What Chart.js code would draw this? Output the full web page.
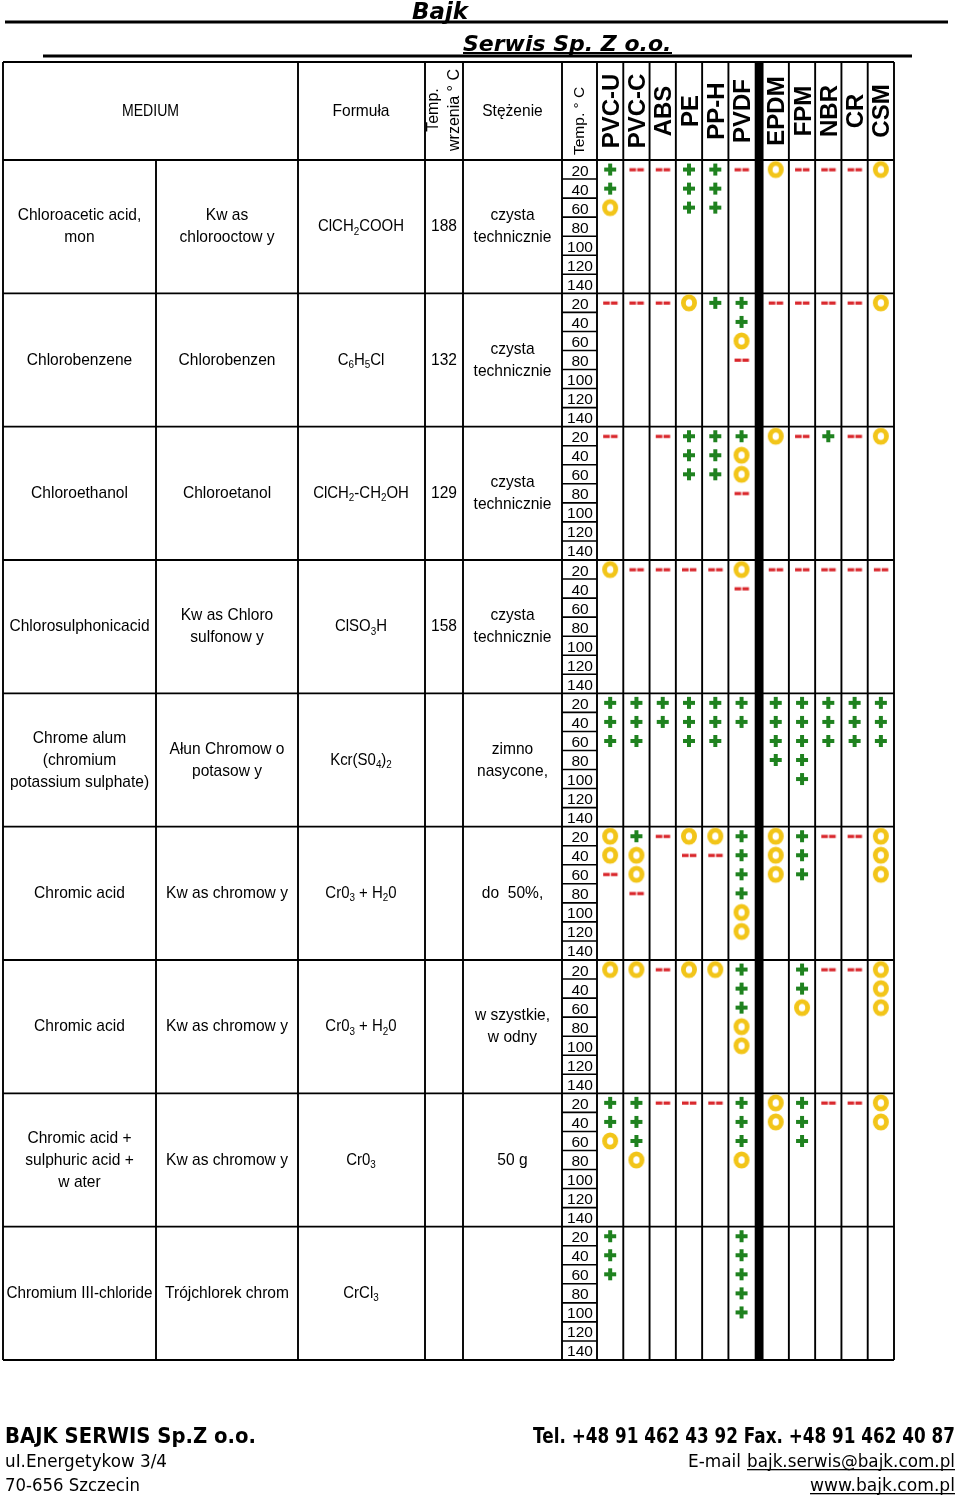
<!DOCTYPE html>
<html>
<head>
<meta charset="utf-8">
<script src="https://cdn.jsdelivr.net/npm/chart.js@4.4.1/dist/chart.umd.min.js"></script>
<style>
  html, body { margin: 0; padding: 0; background: #fff; }
  canvas { display: block; }
</style>
</head>
<body>
<canvas id="chart" width="960" height="1496"></canvas>
<script>
// materials (columns) and temperature steps (rows inside each medium)
const materials = ['PVC-U', 'PVC-C', 'ABS', 'PE', 'PP-H', 'PVDF', 'EPDM', 'FPM', 'NBR', 'CR', 'CSM']
const temps = ['20', '40', '60', '80', '100', '120', '140']

// left part of the table
const mediumEn = [
  ['Chloroacetic acid,', 'mon'],
  ['Chlorobenzene'],
  ['Chloroethanol'],
  ['Chlorosulphonicacid'],
  ['Chrome alum', '(chromium', 'potassium sulphate)'],
  ['Chromic acid'],
  ['Chromic acid'],
  ['Chromic acid +', 'sulphuric acid +', 'w ater'],
  ['Chromium III-chloride']
]
const mediumPl = [
  ['Kw as', 'chlorooctow y'],
  ['Chlorobenzen'],
  ['Chloroetanol'],
  ['Kw as Chloro', 'sulfonow y'],
  ['Ałun Chromow o', 'potasow y'],
  ['Kw as chromow y'],
  ['Kw as chromow y'],
  ['Kw as chromow y'],
  ['Trójchlorek chrom']
]
// "_" = next character is a subscript
const formulas = ['ClCH_2COOH', 'C_6H_5Cl', 'ClCH_2-CH_2OH', 'ClSO_3H', 'Kcr(S0_4)_2', 'Cr0_3 + H_20', 'Cr0_3 + H_20', 'Cr0_3', 'CrCl_3']
const boiling = ['188', '132', '129', '158', '', '', '', '', '']
const concentration = [
  ['czysta', 'technicznie'],
  ['czysta', 'technicznie'],
  ['czysta', 'technicznie'],
  ['czysta', 'technicznie'],
  ['zimno', 'nasycone,'],
  ['do  50%,'],
  ['w szystkie,', 'w odny'],
  ['50 g'],
  ['']
]

// resistance per medium: one string per temperature, one char per material
// '+' resistant, 'o' limited, '-' not resistant, '.' no data
const chloroaceticAcid = ['+--++-o---o', '+..++......', 'o..++......']
const chlorobenzene = ['---o++----o', '.....+.....', '.....o.....', '.....-.....']
const chloroethanol = ['-.-+++o-+-o', '...++o.....', '...++o.....', '.....-.....']
const chlorosulphonicAcid = ['o----o-----', '.....-.....']
const chromeAlum = ['+++++++++++', '+++++++++++', '++.++.+++++', '......++...', '.......+...']
const chromicAcid50 = ['o+-oo+o+--o', 'oo.--+o+..o', '-o...+o+..o', '.-...+.....', '.....o.....', '.....o.....']
const chromicAcidAq = ['oo-oo+.+--o', '.....+.+..o', '.....+.o..o', '.....o.....', '.....o.....']
const chromicSulphuric = ['++---+o+--o', '++...+o+..o', 'o+...+.+...', '.o...o.....']
const chromiumChloride = ['+....+.....', '+....+.....', '+....+.....', '.....+.....', '.....+.....']

const results = [chloroaceticAcid, chlorobenzene, chloroethanol, chlorosulphonicAcid, chromeAlum,
  chromicAcid50, chromicAcidAq, chromicSulphuric, chromiumChloride]

const FONT = '"Liberation Sans", Arial, sans-serif'
const TEXT_SIZE = 17
const SQUEEZE = 0.915
const ROWS = results.length * temps.length

// thermoplastics and elastomers are split by a thick bar
const xPos = (m) => (m < 6 ? m : m + 0.3)

function makeMark(kind) {
  const c = document.createElement('canvas')
  c.width = 22
  c.height = 22
  const g = c.getContext('2d')
  if (kind === '+') {
    g.fillStyle = '#1f821f'
    g.fillRect(5, 9, 12, 4)
    g.fillRect(9, 5, 4, 12)
  } else if (kind === 'o') {
    g.strokeStyle = '#f2c519'
    g.lineWidth = 4.8
    g.beginPath()
    g.ellipse(11, 11, 5.6, 6.2, 0, 0, Math.PI * 2)
    g.stroke()
  } else {
    g.fillStyle = '#d9262b'
    g.fillRect(4, 9.6, 6.6, 3.2)
    g.fillRect(11.8, 9.6, 6.6, 3.2)
  }
  return c
}

const points = {'+': [], 'o': [], '-': []}
results.forEach((rows, g) => {
  rows.forEach((row, t) => {
    for (let m = 0; m < materials.length; m += 1) {
      const ch = row[m]
      if (points[ch]) points[ch].push({x: xPos(m), y: g * temps.length + t})
    }
  })
})

function hLine(ctx, x1, x2, y, w) {
  ctx.lineWidth = w
  ctx.beginPath(); ctx.moveTo(x1, y); ctx.lineTo(x2, y); ctx.stroke()
}
function vLine(ctx, x, y1, y2, w) {
  ctx.lineWidth = w
  ctx.beginPath(); ctx.moveTo(x, y1); ctx.lineTo(x, y2); ctx.stroke()
}

// narrow text like the original PDF
function squeezed(ctx, s, x, y, factor) {
  if (!s) return
  ctx.fillText(s, x, y, ctx.measureText(s).width * factor)
}

function centeredLines(ctx, lines, cx, cy, maxW) {
  ctx.font = `${TEXT_SIZE}px ${FONT}`
  ctx.textAlign = 'center'
  ctx.textBaseline = 'alphabetic'
  lines.forEach((s, i) => {
    const y = cy + (i - (lines.length - 1) / 2) * 22 + 5.5
    const w = Math.min(ctx.measureText(s).width * SQUEEZE, maxW || 999)
    if (s) ctx.fillText(s, cx, y, w)
  })
}

function richText(ctx, text, cx, cy, size) {
  const parts = []
  for (let i = 0; i < text.length; i += 1) {
    if (text[i] === '_') { parts.push({t: text[i + 1], sub: true}); i += 1 }
    else parts.push({t: text[i], sub: false})
  }
  let total = 0
  ctx.textAlign = 'left'
  ctx.textBaseline = 'alphabetic'
  for (const p of parts) {
    ctx.font = `${p.sub ? size * 0.66 : size}px ${FONT}`
    p.w = ctx.measureText(p.t).width
    total += p.w * 0.88
  }
  let x = cx - total / 2
  for (const p of parts) {
    ctx.font = `${p.sub ? size * 0.66 : size}px ${FONT}`
    ctx.fillText(p.t, x, p.sub ? cy + 5.5 + size * 0.2 : cy + 5.5, p.w * 0.88)
    x += p.w * 0.88
  }
}

function rotated(ctx, text, x, y, font, align, baseline) {
  ctx.save()
  ctx.translate(x, y)
  ctx.rotate(-Math.PI / 2)
  ctx.font = font
  ctx.textAlign = align
  ctx.textBaseline = baseline
  ctx.fillText(text, 0, 0)
  ctx.restore()
}

const tablePlugin = {
  id: 'resistanceTable',
  beforeDraw(chart) {
    const ctx = chart.ctx
    const xs = chart.scales.x
    const ys = chart.scales.y
    const top = 62
    const headBottom = ys.getPixelForValue(-0.5)
    const bottom = ys.getPixelForValue(ROWS - 0.5)
    const left = 3
    const right = xs.getPixelForValue(xPos(materials.length - 1) + 0.5)

    ctx.save()
    ctx.fillStyle = '#fff'
    ctx.fillRect(0, 0, chart.width, chart.height)

    // titles
    ctx.fillStyle = '#000'
    ctx.textAlign = 'center'
    ctx.textBaseline = 'alphabetic'
    ctx.font = 'italic bold 23px "DejaVu Sans", sans-serif'
    ctx.fillText('Bajk', 440, 19, 56)
    ctx.textAlign = 'left'
    ctx.font = 'italic bold 22px "DejaVu Sans", sans-serif'
    ctx.fillText('Serwis Sp. Z o.o.', 463, 51, 209)
    ctx.fillRect(5, 20.5, 943, 3)
    ctx.fillRect(463, 52, 209, 2)
    ctx.fillRect(43, 54.5, 869, 3)

    ctx.strokeStyle = '#000'
    // vertical borders
    const fixedCols = [left, 298, 425, 463, 562]
    fixedCols.forEach((x) => vLine(ctx, x, top, bottom, 1.9))
    vLine(ctx, 156, headBottom, bottom, 1.9)
    for (let m = 0; m < materials.length; m += 1) {
      vLine(ctx, xs.getPixelForValue(xPos(m) - 0.5), top, bottom, 1.9)
    }
    vLine(ctx, right, top, bottom, 1.9)
    const barL = xs.getPixelForValue(xPos(5) + 0.5)
    const barR = xs.getPixelForValue(xPos(6) - 0.5)
    ctx.fillStyle = '#000'
    ctx.fillRect(barL, top - 1, barR - barL, bottom - top + 2)

    // horizontal borders
    hLine(ctx, left, right, top, 1.9)
    for (let g = 0; g <= results.length; g += 1) {
      hLine(ctx, left, right, ys.getPixelForValue(g * temps.length - 0.5), 1.9)
    }
    const tempL = 562
    const tempR = xs.getPixelForValue(-0.5)
    for (let r = 0; r < ROWS; r += 1) {
      if ((r + 1) % temps.length !== 0) hLine(ctx, tempL, tempR, ys.getPixelForValue(r + 0.5), 1.6)
    }

    // header
    ctx.fillStyle = '#000'
    ctx.textBaseline = 'alphabetic'
    ctx.textAlign = 'center'
    ctx.font = `${TEXT_SIZE}px ${FONT}`
    ctx.fillText('MEDIUM', 150.5, 116, 57)
    squeezed(ctx, 'Formuła', 361, 116, SQUEEZE)
    squeezed(ctx, 'Stężenie', 512.5, 116, SQUEEZE)
    rotated(ctx, 'Temp.', 434, 110, `16px ${FONT}`, 'center', 'middle')
    rotated(ctx, 'wrzenia ° C', 455, 110, `16px ${FONT}`, 'center', 'middle')
    rotated(ctx, 'Temp. ° C', 579.5, 155, `15.5px ${FONT}`, 'left', 'middle')
    materials.forEach((name, m) => {
      const cx = xs.getPixelForValue(xPos(m))
      ctx.save()
      ctx.translate(cx, 111)
      ctx.rotate(-Math.PI / 2)
      ctx.font = `bold 24px ${FONT}`
      ctx.textAlign = 'center'
      ctx.textBaseline = 'alphabetic'
      ctx.fillText(name, 0, 8.6)
      ctx.restore()
    })

    // rows
    results.forEach((rows, g) => {
      const cy = (ys.getPixelForValue(g * temps.length - 0.5) + ys.getPixelForValue((g + 1) * temps.length - 0.5)) / 2 - 1
      ctx.fillStyle = '#000'
      centeredLines(ctx, mediumEn[g], 79.5, cy, 146)
      centeredLines(ctx, mediumPl[g], 227, cy, 136)
      richText(ctx, formulas[g], 361, cy, TEXT_SIZE)
      centeredLines(ctx, [boiling[g]], 444, cy)
      centeredLines(ctx, concentration[g], 512.5, cy, 96)
      temps.forEach((t, i) => {
        ctx.font = `15.5px ${FONT}`
        ctx.textAlign = 'center'
        ctx.textBaseline = 'alphabetic'
        ctx.fillText(t, 580, ys.getPixelForValue(g * temps.length + i) + 6)
      })
    })

    // footer
    ctx.fillStyle = '#000'
    ctx.textBaseline = 'alphabetic'
    ctx.textAlign = 'left'
    ctx.font = 'bold 21px "DejaVu Sans", sans-serif'
    ctx.fillText('BAJK SERWIS Sp.Z o.o.', 5, 1443, 251)
    ctx.font = '18px "DejaVu Sans", sans-serif'
    ctx.fillText('uI.Energetykow 3/4', 5, 1467, 162)
    ctx.fillText('70-656 Szczecin', 5, 1491, 135)
    ctx.textAlign = 'right'
    ctx.font = 'bold 21px "DejaVu Sans", sans-serif'
    ctx.fillText('Tel. +48 91 462 43 92 Fax. +48 91 462 40 87', 955, 1443, 422)
    ctx.font = '18px "DejaVu Sans", sans-serif'
    ctx.fillText('bajk.serwis@bajk.com.pl', 955, 1467, 208)
    ctx.fillText('E-mail', 741, 1467, 53)
    ctx.fillText('www.bajk.com.pl', 955, 1491, 145)
    ctx.fillRect(747, 1469, 208, 1.3)
    ctx.fillRect(810, 1493, 145, 1.3)
    ctx.restore()
  }
}

const markStyle = (kind) => ({
  data: points[kind],
  pointStyle: makeMark(kind),
  pointRadius: 8,
  pointHoverRadius: 8,
  showLine: false
})

new Chart(document.getElementById('chart'), {
  type: 'scatter',
  data: {
    datasets: [
      Object.assign({label: 'odporny'}, markStyle('+')),
      Object.assign({label: 'ograniczona odporność'}, markStyle('o')),
      Object.assign({label: 'nieodporny'}, markStyle('-'))
    ]
  },
  options: {
    responsive: false,
    animation: false,
    events: [],
    layout: {padding: {left: 597, top: 160, right: 66, bottom: 136}},
    plugins: {legend: {display: false}, tooltip: {enabled: false}},
    scales: {
      x: {type: 'linear', min: -0.5, max: 10.8, display: false},
      y: {type: 'linear', min: -0.5, max: ROWS - 0.5, reverse: true, display: false}
    }
  },
  plugins: [tablePlugin]
})
</script>
</body>
</html>
